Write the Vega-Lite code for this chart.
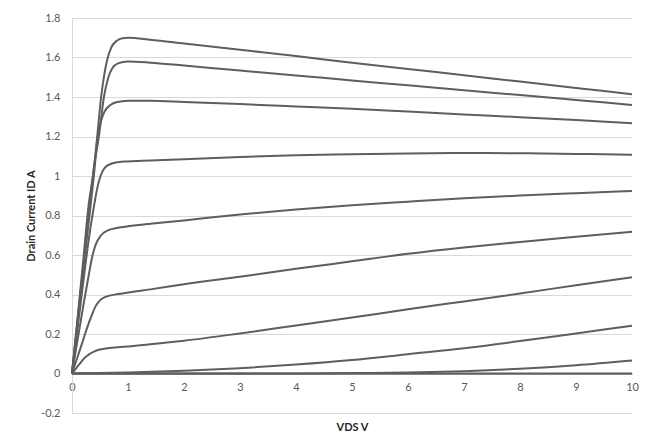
{
  "$schema": "https://vega.github.io/schema/vega-lite/v6.json",
  "width": 560,
  "height": 395,
  "autosize": {"type": "none"},
  "padding": {"left": 72, "top": 18, "right": 16, "bottom": 27},
  "background": "white",
  "config": {
    "view": {"stroke": null},
    "font": "Lato",
    "axis": {"labelFont": "Lato", "titleFont": "Lato", "labelColor": "#595959", "labelFontSize": 11, "titleFontSize": 11, "titleColor": "#262626", "titleFontWeight": "bold"}
  },
  "data": {"values": [
    {"s":1,"x":0,"y":0},{"s":1,"x":0.1,"y":0.28},{"s":1,"x":0.2,"y":0.57},{"s":1,"x":0.3,"y":0.86},{"s":1,"x":0.375,"y":1.0},{"s":1,"x":0.45,"y":1.2},{"s":1,"x":0.52,"y":1.4},{"s":1,"x":0.58,"y":1.52},{"s":1,"x":0.63,"y":1.59},{"s":1,"x":0.7,"y":1.65},{"s":1,"x":0.8,"y":1.685},{"s":1,"x":0.9,"y":1.698},{"s":1,"x":1.0,"y":1.7},{"s":1,"x":1.4,"y":1.69},{"s":1,"x":2,"y":1.671},{"s":1,"x":3,"y":1.639},{"s":1,"x":4,"y":1.607},{"s":1,"x":5,"y":1.574},{"s":1,"x":6,"y":1.542},{"s":1,"x":7,"y":1.51},{"s":1,"x":8,"y":1.478},{"s":1,"x":9,"y":1.446},{"s":1,"x":10,"y":1.414},
    {"s":2,"x":0,"y":0},{"s":2,"x":0.1,"y":0.27},{"s":2,"x":0.2,"y":0.54},{"s":2,"x":0.3,"y":0.82},{"s":2,"x":0.4,"y":1.06},{"s":2,"x":0.48,"y":1.2},{"s":2,"x":0.57,"y":1.4},{"s":2,"x":0.65,"y":1.5},{"s":2,"x":0.72,"y":1.545},{"s":2,"x":0.82,"y":1.57},{"s":2,"x":1.0,"y":1.58},{"s":2,"x":1.4,"y":1.574},{"s":2,"x":2,"y":1.559},{"s":2,"x":3,"y":1.534},{"s":2,"x":4,"y":1.509},{"s":2,"x":5,"y":1.484},{"s":2,"x":6,"y":1.459},{"s":2,"x":7,"y":1.434},{"s":2,"x":8,"y":1.41},{"s":2,"x":9,"y":1.385},{"s":2,"x":10,"y":1.36},
    {"s":3,"x":0,"y":0},{"s":3,"x":0.1,"y":0.26},{"s":3,"x":0.2,"y":0.52},{"s":3,"x":0.3,"y":0.77},{"s":3,"x":0.39,"y":1.0},{"s":3,"x":0.46,"y":1.2},{"s":3,"x":0.52,"y":1.28},{"s":3,"x":0.58,"y":1.326},{"s":3,"x":0.68,"y":1.358},{"s":3,"x":0.79,"y":1.373},{"s":3,"x":1.0,"y":1.381},{"s":3,"x":1.4,"y":1.381},{"s":3,"x":2,"y":1.375},{"s":3,"x":3,"y":1.364},{"s":3,"x":4,"y":1.352},{"s":3,"x":5,"y":1.34},{"s":3,"x":6,"y":1.326},{"s":3,"x":7,"y":1.312},{"s":3,"x":8,"y":1.298},{"s":3,"x":9,"y":1.283},{"s":3,"x":10,"y":1.267},
    {"s":4,"x":0,"y":0},{"s":4,"x":0.1,"y":0.23},{"s":4,"x":0.2,"y":0.46},{"s":4,"x":0.3,"y":0.68},{"s":4,"x":0.4,"y":0.86},{"s":4,"x":0.46,"y":0.95},{"s":4,"x":0.51,"y":1.0},{"s":4,"x":0.58,"y":1.04},{"s":4,"x":0.7,"y":1.062},{"s":4,"x":0.82,"y":1.07},{"s":4,"x":1.0,"y":1.074},{"s":4,"x":1.4,"y":1.078},{"s":4,"x":2,"y":1.085},{"s":4,"x":3,"y":1.096},{"s":4,"x":4,"y":1.105},{"s":4,"x":5,"y":1.11},{"s":4,"x":6,"y":1.114},{"s":4,"x":7,"y":1.116},{"s":4,"x":8,"y":1.115},{"s":4,"x":9,"y":1.112},{"s":4,"x":10,"y":1.108},
    {"s":5,"x":0,"y":0},{"s":5,"x":0.1,"y":0.17},{"s":5,"x":0.2,"y":0.34},{"s":5,"x":0.3,"y":0.5},{"s":5,"x":0.36,"y":0.59},{"s":5,"x":0.42,"y":0.65},{"s":5,"x":0.52,"y":0.7},{"s":5,"x":0.65,"y":0.726},{"s":5,"x":0.82,"y":0.738},{"s":5,"x":1.0,"y":0.745},{"s":5,"x":1.4,"y":0.758},{"s":5,"x":2,"y":0.775},{"s":5,"x":3,"y":0.805},{"s":5,"x":4,"y":0.83},{"s":5,"x":5,"y":0.852},{"s":5,"x":6,"y":0.87},{"s":5,"x":7,"y":0.887},{"s":5,"x":8,"y":0.901},{"s":5,"x":9,"y":0.913},{"s":5,"x":10,"y":0.924},
    {"s":6,"x":0,"y":0},{"s":6,"x":0.1,"y":0.085},{"s":6,"x":0.2,"y":0.17},{"s":6,"x":0.28,"y":0.24},{"s":6,"x":0.35,"y":0.293},{"s":6,"x":0.42,"y":0.34},{"s":6,"x":0.49,"y":0.368},{"s":6,"x":0.6,"y":0.388},{"s":6,"x":0.82,"y":0.402},{"s":6,"x":1.0,"y":0.41},{"s":6,"x":1.4,"y":0.426},{"s":6,"x":2,"y":0.452},{"s":6,"x":3,"y":0.49},{"s":6,"x":4,"y":0.53},{"s":6,"x":5,"y":0.568},{"s":6,"x":6,"y":0.606},{"s":6,"x":7,"y":0.638},{"s":6,"x":8,"y":0.666},{"s":6,"x":9,"y":0.693},{"s":6,"x":10,"y":0.718},
    {"s":7,"x":0,"y":0},{"s":7,"x":0.07,"y":0.025},{"s":7,"x":0.14,"y":0.05},{"s":7,"x":0.22,"y":0.078},{"s":7,"x":0.32,"y":0.1},{"s":7,"x":0.45,"y":0.118},{"s":7,"x":0.6,"y":0.127},{"s":7,"x":0.82,"y":0.133},{"s":7,"x":1.0,"y":0.137},{"s":7,"x":1.4,"y":0.148},{"s":7,"x":2,"y":0.166},{"s":7,"x":3,"y":0.203},{"s":7,"x":4,"y":0.243},{"s":7,"x":5,"y":0.283},{"s":7,"x":6,"y":0.325},{"s":7,"x":7,"y":0.365},{"s":7,"x":8,"y":0.405},{"s":7,"x":9,"y":0.447},{"s":7,"x":10,"y":0.487},
    {"s":8,"x":0,"y":0},{"s":8,"x":1,"y":0.005},{"s":8,"x":2,"y":0.014},{"s":8,"x":3,"y":0.027},{"s":8,"x":4,"y":0.045},{"s":8,"x":5,"y":0.068},{"s":8,"x":6,"y":0.098},{"s":8,"x":7,"y":0.128},{"s":8,"x":8,"y":0.164},{"s":8,"x":9,"y":0.203},{"s":8,"x":10,"y":0.242},
    {"s":9,"x":0,"y":0},{"s":9,"x":4,"y":0},{"s":9,"x":5,"y":0.002},{"s":9,"x":6,"y":0.005},{"s":9,"x":7,"y":0.012},{"s":9,"x":8,"y":0.024},{"s":9,"x":9,"y":0.042},{"s":9,"x":10,"y":0.066},
    {"s":10,"x":0,"y":0},{"s":10,"x":10,"y":0}
  ]},
  "mark": {"type": "line", "interpolate": "monotone", "color": "#5e5e5e", "strokeWidth": 2},
  "encoding": {
    "x": {"field": "x", "type": "quantitative", "scale": {"domain": [0, 10], "nice": false, "zero": false},
      "axis": {"title": "VDS V", "values": [0,1,2,3,4,5,6,7,8,9,10], "grid": false, "ticks": false, "offset": -39.5, "domainColor": "#868686", "labelPadding": 8, "titlePadding": 29, "labelFlush": false}},
    "y": {"field": "y", "type": "quantitative", "scale": {"domain": [-0.2, 1.8], "nice": false, "zero": false},
      "axis": {"title": "Drain Current ID A", "values": [-0.2,0,0.2,0.4,0.6,0.8,1,1.2,1.4,1.6,1.8], "labelExpr": "'' + round(datum.value*10)/10", "grid": true, "gridColor": "#d9d9d9", "ticks": false, "domainColor": "#d9d9d9", "labelPadding": 12, "titlePadding": 4}},
    "detail": {"field": "s", "type": "nominal"}
  }
}
